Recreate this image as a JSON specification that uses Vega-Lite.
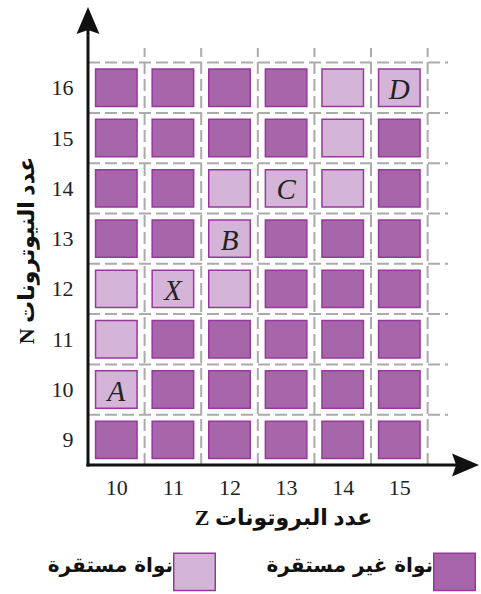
{
  "$schema": "https://vega.github.io/schema/vega-lite/v6.json",
  "autosize": "none",
  "width": 390,
  "height": 457,
  "padding": {"left": 88, "top": 8, "right": 3, "bottom": 129},
  "background": "white",
  "config": {
    "view": {"stroke": null},
    "axis": {"domain": false, "ticks": false, "grid": false, "labelFlush": false, "format": "d", "labelFont": "Liberation Serif", "labelFontSize": 22, "labelColor": "#222",
      "titleFont": "Liberation Serif, DejaVu Sans", "titleFontWeight": "bold", "titleFontSize": 22, "titleColor": "#111"},
    "axisX": {"labelPadding": 12, "titlePadding": 9},
    "axisY": {"labelPadding": 15, "titlePadding": 13, "titleY": 242}
  },
  "datasets": {
    "cells": [
      {"Z": 10, "N": 16, "status": "نواة غير مستقرة", "label": ""},
      {"Z": 11, "N": 16, "status": "نواة غير مستقرة", "label": ""},
      {"Z": 12, "N": 16, "status": "نواة غير مستقرة", "label": ""},
      {"Z": 13, "N": 16, "status": "نواة غير مستقرة", "label": ""},
      {"Z": 14, "N": 16, "status": "نواة مستقرة", "label": ""},
      {"Z": 15, "N": 16, "status": "نواة مستقرة", "label": "D"},
      {"Z": 10, "N": 15, "status": "نواة غير مستقرة", "label": ""},
      {"Z": 11, "N": 15, "status": "نواة غير مستقرة", "label": ""},
      {"Z": 12, "N": 15, "status": "نواة غير مستقرة", "label": ""},
      {"Z": 13, "N": 15, "status": "نواة غير مستقرة", "label": ""},
      {"Z": 14, "N": 15, "status": "نواة مستقرة", "label": ""},
      {"Z": 15, "N": 15, "status": "نواة غير مستقرة", "label": ""},
      {"Z": 10, "N": 14, "status": "نواة غير مستقرة", "label": ""},
      {"Z": 11, "N": 14, "status": "نواة غير مستقرة", "label": ""},
      {"Z": 12, "N": 14, "status": "نواة مستقرة", "label": ""},
      {"Z": 13, "N": 14, "status": "نواة مستقرة", "label": "C"},
      {"Z": 14, "N": 14, "status": "نواة مستقرة", "label": ""},
      {"Z": 15, "N": 14, "status": "نواة غير مستقرة", "label": ""},
      {"Z": 10, "N": 13, "status": "نواة غير مستقرة", "label": ""},
      {"Z": 11, "N": 13, "status": "نواة غير مستقرة", "label": ""},
      {"Z": 12, "N": 13, "status": "نواة مستقرة", "label": "B"},
      {"Z": 13, "N": 13, "status": "نواة غير مستقرة", "label": ""},
      {"Z": 14, "N": 13, "status": "نواة غير مستقرة", "label": ""},
      {"Z": 15, "N": 13, "status": "نواة غير مستقرة", "label": ""},
      {"Z": 10, "N": 12, "status": "نواة مستقرة", "label": ""},
      {"Z": 11, "N": 12, "status": "نواة مستقرة", "label": "X"},
      {"Z": 12, "N": 12, "status": "نواة مستقرة", "label": ""},
      {"Z": 13, "N": 12, "status": "نواة غير مستقرة", "label": ""},
      {"Z": 14, "N": 12, "status": "نواة غير مستقرة", "label": ""},
      {"Z": 15, "N": 12, "status": "نواة غير مستقرة", "label": ""},
      {"Z": 10, "N": 11, "status": "نواة مستقرة", "label": ""},
      {"Z": 11, "N": 11, "status": "نواة غير مستقرة", "label": ""},
      {"Z": 12, "N": 11, "status": "نواة غير مستقرة", "label": ""},
      {"Z": 13, "N": 11, "status": "نواة غير مستقرة", "label": ""},
      {"Z": 14, "N": 11, "status": "نواة غير مستقرة", "label": ""},
      {"Z": 15, "N": 11, "status": "نواة غير مستقرة", "label": ""},
      {"Z": 10, "N": 10, "status": "نواة مستقرة", "label": "A"},
      {"Z": 11, "N": 10, "status": "نواة غير مستقرة", "label": ""},
      {"Z": 12, "N": 10, "status": "نواة غير مستقرة", "label": ""},
      {"Z": 13, "N": 10, "status": "نواة غير مستقرة", "label": ""},
      {"Z": 14, "N": 10, "status": "نواة غير مستقرة", "label": ""},
      {"Z": 15, "N": 10, "status": "نواة غير مستقرة", "label": ""},
      {"Z": 10, "N": 9, "status": "نواة غير مستقرة", "label": ""},
      {"Z": 11, "N": 9, "status": "نواة غير مستقرة", "label": ""},
      {"Z": 12, "N": 9, "status": "نواة غير مستقرة", "label": ""},
      {"Z": 13, "N": 9, "status": "نواة غير مستقرة", "label": ""},
      {"Z": 14, "N": 9, "status": "نواة غير مستقرة", "label": ""},
      {"Z": 15, "N": 9, "status": "نواة غير مستقرة", "label": ""}
    ],
    "vgrid": [{"g": 10.5}, {"g": 11.5}, {"g": 12.5}, {"g": 13.5}, {"g": 14.5}, {"g": 15.5}],
    "hgrid": [{"g": 9.5}, {"g": 10.5}, {"g": 11.5}, {"g": 12.5}, {"g": 13.5}, {"g": 14.5}, {"g": 15.5}, {"g": 16.5}],
    "one": [{"k": 1}]
  },
  "layer": [
    {
      "data": {"name": "cells"},
      "mark": {"type": "point", "shape": "M-1,-0.9L1,-0.9L1,0.9L-1,0.9Z", "size": 1722, "filled": true, "opacity": 1, "stroke": "#97399c", "strokeWidth": 1.5},
      "encoding": {
        "x": {"field": "Z", "type": "quantitative", "scale": {"domain": [9.5, 16.39], "nice": false, "zero": false},
          "axis": {"values": [10, 11, 12, 13, 14, 15], "title": "Z عدد البروتونات"}},
        "y": {"field": "N", "type": "quantitative", "scale": {"domain": [8.5, 17.585], "nice": false, "zero": false},
          "axis": {"values": [9, 10, 11, 12, 13, 14, 15, 16], "title": "N عدد النيوترونات"}},
        "color": {"field": "status", "type": "nominal",
          "scale": {"domain": ["نواة مستقرة", "نواة غير مستقرة"], "range": ["#d4b5d7", "#a666a9"]},
          "legend": {"orient": "none", "legendX": 85, "legendY": 542, "direction": "horizontal", "title": null, "padding": 0,
            "symbolType": "M-1,-0.9L1,-0.9L1,0.9L-1,0.9Z", "symbolSize": 1722, "symbolStrokeColor": "#97399c", "symbolStrokeWidth": 1.5, "symbolOpacity": 1,
            "labelAlign": "right", "labelBaseline": "alphabetic", "labelOffset": -43, "labelFont": "DejaVu Sans", "labelFontWeight": "bold", "labelFontSize": 20, "labelColor": "#111", "labelLimit": 0,
            "columnPadding": 47}}
      }
    },
    {
      "data": {"name": "vgrid"},
      "mark": {"type": "rule", "color": "#ababab", "strokeWidth": 2, "strokeDash": [12, 5]},
      "encoding": {
        "x": {"field": "g", "type": "quantitative"},
        "y": {"datum": 8.5, "type": "quantitative"},
        "y2": {"datum": 16.79}
      }
    },
    {
      "data": {"name": "hgrid"},
      "mark": {"type": "rule", "color": "#ababab", "strokeWidth": 2, "strokeDash": [12, 5]},
      "encoding": {
        "y": {"field": "g", "type": "quantitative"},
        "x": {"datum": 9.5, "type": "quantitative"},
        "x2": {"datum": 15.86}
      }
    },
    {
      "data": {"name": "cells"},
      "mark": {"type": "text", "font": "Liberation Serif", "fontStyle": "italic", "fontSize": 29, "color": "#222", "baseline": "middle", "dy": 2},
      "encoding": {
        "x": {"field": "Z", "type": "quantitative"},
        "y": {"field": "N", "type": "quantitative"},
        "text": {"field": "label"}
      }
    },
    {
      "data": {"name": "one"},
      "mark": {"type": "rule", "color": "#111", "strokeWidth": 3, "strokeCap": "square"},
      "encoding": {
        "x": {"datum": 9.5, "type": "quantitative"},
        "y": {"datum": 8.5, "type": "quantitative"},
        "y2": {"datum": 17.3}
      }
    },
    {
      "data": {"name": "one"},
      "mark": {"type": "rule", "color": "#111", "strokeWidth": 3, "strokeCap": "square"},
      "encoding": {
        "y": {"datum": 8.5, "type": "quantitative"},
        "x": {"datum": 9.5, "type": "quantitative"},
        "x2": {"datum": 16.1}
      }
    },
    {
      "data": {"name": "one"},
      "mark": {"type": "point", "shape": "M0,-1L0.85,1L0,0.7L-0.85,1Z", "size": 729, "filled": true, "color": "#111", "opacity": 1},
      "encoding": {
        "x": {"datum": 9.5, "type": "quantitative"},
        "y": {"datum": 17.337, "type": "quantitative"}
      }
    },
    {
      "data": {"name": "one"},
      "mark": {"type": "point", "shape": "M1,0L-1,0.85L-0.7,0L-1,-0.85Z", "size": 729, "filled": true, "color": "#111", "opacity": 1},
      "encoding": {
        "x": {"datum": 16.17, "type": "quantitative"},
        "y": {"datum": 8.5, "type": "quantitative"}
      }
    }
  ]
}
